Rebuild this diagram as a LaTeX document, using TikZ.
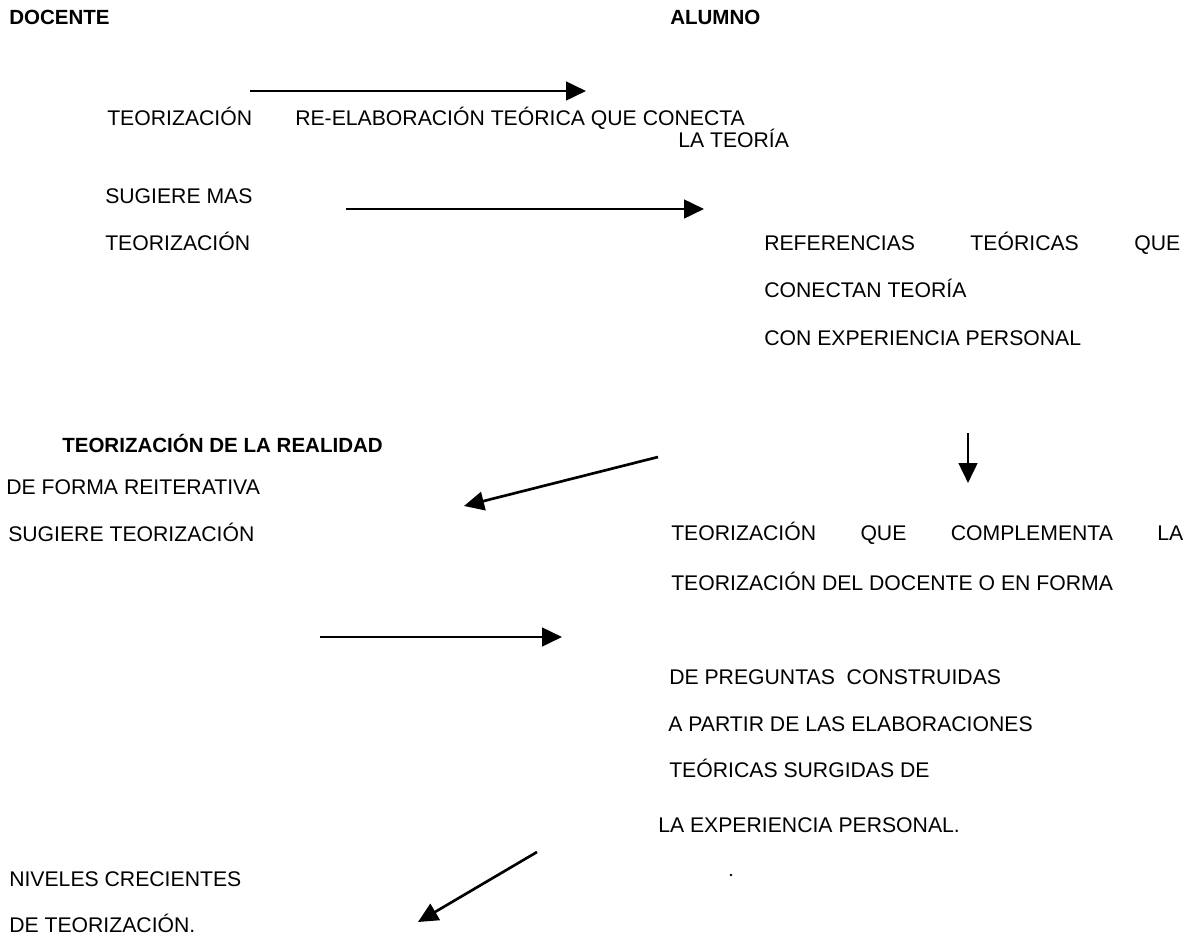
\documentclass[tikz,border=0pt]{standalone}
\usepackage{fontspec}
\setmainfont{Liberation Sans}
\usetikzlibrary{arrows.meta}
\newcommand{\letra}{\fontsize{15.9pt}{18pt}\selectfont}
\newcommand{\letrab}{\fontsize{15.4pt}{18pt}\selectfont\bfseries}
\tikzset{
    txt/.style={anchor=base west, inner sep=0pt, font=\letra}, % texto normal
    txtb/.style={txt, font=\letrab}, % encabezados
    flecha/.style={line width=2pt, -{Triangle[length=15pt, width=14pt]}} % flechas del esquema
}

\begin{document}
\begin{tikzpicture}[x=0.75pt, y=-0.75pt]
            \useasboundingbox (0,0) rectangle (1196,938);

            \node[txtb] (docente) at (9,25) {DOCENTE};
            \node[txtb] (alumno) at (670,25) {ALUMNO};

            \node[txt] (teo1) at (107,126) {TEORIZACIÓN};
            \node[txt] (reelab) at (295,126) {RE-ELABORACIÓN TEÓRICA QUE CONECTA};
            \node[txt] (lateoria) at (678,148) {LA TEORÍA};
            \node[txt] (sugmas) at (105,204) {SUGIERE MAS};
            \node[txt] (teo2) at (105,250) {TEORIZACIÓN};
            \node[txt] (ref1) at (764,250) {\makebox[312pt][s]{REFERENCIAS TEÓRICAS QUE}};
            \node[txt] (ref2) at (764,297) {CONECTAN TEORÍA};
            \node[txt] (ref3) at (764,345) {CON EXPERIENCIA PERSONAL};

            \node[txtb] (real) at (62,452) {TEORIZACIÓN DE LA REALIDAD};
            \node[txt] (forma) at (6,494) {DE FORMA REITERATIVA};
            \node[txt] (sugteo) at (8,541) {SUGIERE TEORIZACIÓN};
            \node[txt] (comp1) at (671,540) {\makebox[384pt][s]{TEORIZACIÓN QUE COMPLEMENTA LA}};
            \node[txt] (comp2) at (671,590) {TEORIZACIÓN DEL DOCENTE O EN FORMA};
            \node[txt] (preg1) at (669,684) {DE PREGUNTAS\ \ CONSTRUIDAS};
            \node[txt] (preg2) at (668,731) {A PARTIR DE LAS ELABORACIONES};
            \node[txt] (preg3) at (669,777) {TEÓRICAS SURGIDAS DE};
            \node[txt] (preg4) at (658,832) {LA EXPERIENCIA PERSONAL.};
            \node[txt] (niv1) at (9,886) {NIVELES CRECIENTES};
            \node[txt] (niv2) at (9,932) {DE TEORIZACIÓN.};

            \coordinate (a1) at (250,91);  \coordinate (b1) at (586,91);
            \coordinate (a2) at (346,209); \coordinate (b2) at (704,209);
            \coordinate (a3) at (658,457); \coordinate (b3) at (464,506);
            \coordinate (a4) at (968,433); \coordinate (b4) at (968,483);
            \coordinate (a5) at (320,637); \coordinate (b5) at (562,637);
            \coordinate (a6) at (537,852); \coordinate (b6) at (418,922);
            \foreach \i in {1,...,6} {\draw[flecha] (a\i) -- (b\i);}

            \fill (731,875) circle (1pt);
        \end{tikzpicture}
\end{document}
